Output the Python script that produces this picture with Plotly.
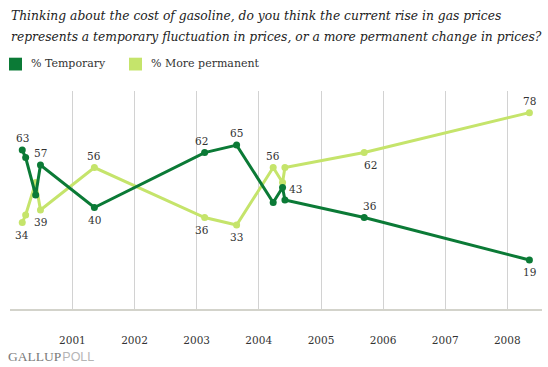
import plotly.graph_objects as go

# ---- data ----
dates = ["2000-03-12", "2000-04-01", "2000-05-30", "2000-06-27", "2001-05-10",
         "2003-02-17", "2003-08-24", "2004-03-26", "2004-05-20", "2004-06-03",
         "2005-09-12", "2008-05-10"]
temporary = [63, 60, 45, 57, 40, 62, 65, 42, 48, 43, 36, 19]
permanent = [34, 37, 50, 39, 56, 36, 33, 56, 50, 56, 62, 78]
temp_label_pos = ["above", "", "", "above", "below", "above", "above", "", "", "right", "above", "below"]
perm_label_pos = ["below", "", "", "below", "above", "below", "below", "above", "", "", "below", "above"]
temp_label_dx = [0, 0, 0, 0, 0, -3, 0, 0, 0, 0, 6, 0]
perm_label_dx = [0, 0, 0, 0, 0, -3, 0, 0, 0, 0, 6, 0]
tick_years = [2001, 2002, 2003, 2004, 2005, 2006, 2007, 2008]
series_names = ["% Temporary", "% More permanent"]
title_lines = ["Thinking about the cost of gasoline, do you think the current rise in gas prices",
               "represents a temporary fluctuation in prices, or a more permanent change in prices?"]

DARK = "#0b7a36"
LIGHT = "#c5e46b"
TXT = "#333333"
SERIF = "DejaVu Serif"

W, H = 548, 367
ML, MR, MT, MB = 10, 6, 91, 58
PW, PH = W - ML - MR, H - MT - MB


def px(x):
    return (x - ML) / PW


def py(y):
    return (H - MB - y) / PH


fig = go.Figure()
for vals, color, name in [(permanent, LIGHT, series_names[1]), (temporary, DARK, series_names[0])]:
    fig.add_trace(go.Scatter(
        x=dates, y=vals, mode="lines+markers", name=name,
        line=dict(color=color, width=3),
        marker=dict(color=color, size=7),
        showlegend=False, hoverinfo="skip"))

annotations = []
for vals, pos, dxs in [(temporary, temp_label_pos, temp_label_dx), (permanent, perm_label_pos, perm_label_dx)]:
    for d, v, p, dx in zip(dates, vals, pos, dxs):
        if not p:
            continue
        a = dict(x=d, y=v, text=str(v), showarrow=False, xref="x", yref="y",
                 font=dict(family=SERIF, size=10.5, color=TXT), xshift=dx)
        if p == "above":
            a.update(yshift=12)
        elif p == "below":
            a.update(yshift=-12)
        elif p == "right":
            a.update(xanchor="left", xshift=2, yshift=11)
        annotations.append(a)

# title
for i, line in enumerate(title_lines):
    annotations.append(dict(x=px(9), y=py(15.5 + 21 * i), xref="paper", yref="paper",
                            xanchor="left", yanchor="middle", showarrow=False,
                            text="<i>" + line + "</i>",
                            font=dict(family=SERIF, size=12.3, color="#222222")))

# legend (manual)
shapes = []
legend_items = [(series_names[0], DARK, 9), (series_names[1], LIGHT, 129)]
for name, color, x0 in legend_items:
    shapes.append(dict(type="rect", xref="paper", yref="paper",
                       x0=px(x0), x1=px(x0 + 13), y0=py(70.5), y1=py(57.7),
                       fillcolor=color, line=dict(width=0)))
    annotations.append(dict(x=px(x0 + 19.5), y=py(64), xref="paper", yref="paper",
                            xanchor="left", yanchor="middle", showarrow=False, text=name,
                            font=dict(family=SERIF, size=11, color=TXT)))

# Gallup Poll mark
annotations.append(dict(x=px(6), y=py(356), xref="paper", yref="paper",
                        xanchor="left", yanchor="middle", showarrow=False,
                        text="<span style='color:#7a7a7a;font-family:Liberation Serif'>GALLUP</span>"
                             "<span style='color:#b5b5b5;font-family:Liberation Sans;font-size:12.5px'>&#8202;POLL</span>",
                        font=dict(family="Liberation Serif", size=13.5)))

fig.update_layout(
    width=W, height=H,
    margin=dict(l=ML, r=MR, t=MT, b=MB),
    paper_bgcolor="white", plot_bgcolor="white",
    showlegend=False,
    annotations=annotations, shapes=shapes,
    xaxis=dict(type="date", range=["1999-12-31", "2008-07-23"],
               tickvals=[f"{y}-01-01" for y in tick_years],
               ticktext=[str(y) for y in tick_years],
               showgrid=True, gridcolor="#d2d2d2", gridwidth=1,
               showline=True, linecolor="#d3d3cb", linewidth=2,
               ticks="", ticklabelstandoff=20,
               tickfont=dict(family=SERIF, size=10.5, color=TXT),
               zeroline=False, fixedrange=True),
    yaxis=dict(range=[-0.64, 86.66], visible=False, showgrid=False, zeroline=False),
)

fig.write_html("out.html", config={"displayModeBar": False},
               post_script="document.body.style.margin='0';document.body.style.overflow='hidden';")
